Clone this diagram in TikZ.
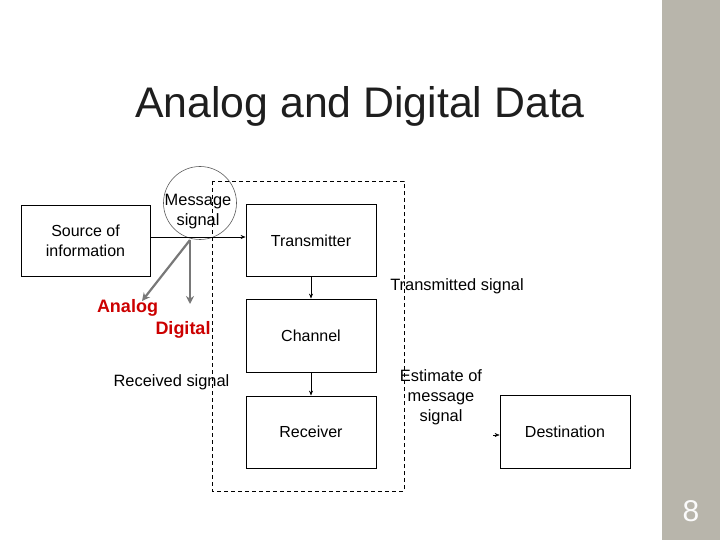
\documentclass[tikz,border=0pt]{standalone}
\usepackage{fontspec}
\setmainfont{Liberation Sans}
\usetikzlibrary{arrows.meta}
\definecolor{barcol}{RGB}{184,181,171}
\definecolor{redtxt}{RGB}{204,0,0}
\definecolor{graylin}{RGB}{120,120,120}
\definecolor{titlecol}{RGB}{30,30,30}
\tikzset{
  blk/.style={draw=black, line width=0.8pt, minimum width=130pt, minimum height=72pt, inner sep=0pt, font=\fontsize{16}{20}\selectfont, align=center},
  lbl/.style={font=\fontsize{16.4}{20}\selectfont, align=center, inner sep=0pt},
  redlbl/.style={font=\fontsize{18}{20}\selectfont\bfseries, text=redtxt, inner sep=0pt},
  flow/.style={line width=0.7pt, -{Stealth[length=5pt,width=4pt]}},
  grayarr/.style={draw=graylin, line width=2.2pt, -{Stealth[length=8pt,width=8pt]}},
}
\begin{document}
\begin{tikzpicture}[x=1pt,y=-1pt]
\useasboundingbox (0,0) rectangle (720,540);
\fill[barcol] (662,0) rectangle (720,540);
\node[text=white!95!barcol, font=\fontsize{30}{32}\selectfont] (pg) at (691,511) {8};
\node[text=titlecol, font=\fontsize{42.8}{46}\selectfont] (title) at (360,106) {Analog and Digital Data};
% dashed frame
\draw[dash pattern=on 4pt off 3pt, line width=0.7pt] (212,181) rectangle (404,491);
% blocks
\node[blk, minimum width=129pt, minimum height=71pt] (src) at (85.5,240.5) {Source of\\information};
\node[blk] (tx) at (311,240.5) {Transmitter};
\node[blk, minimum height=73pt] (ch) at (311,335.5) {Channel};
\node[blk] (rx) at (311,432) {Receiver};
\node[blk, minimum height=73pt] (dst) at (565,431.5) {Destination};
% circle
\draw[line width=0.6pt, draw=black!65] (200,203) circle (36.5);
\node[lbl] (msg) at (198,212) {Message\\signal};
% connectors
\draw[flow] (src.east |- 0,237) -- (tx.west |- 0,237);
\draw[flow] (tx) -- (ch);
\draw[flow] (ch) -- (rx);
\coordinate (dstin) at (493,435);
\draw[flow, line width=0.4pt] (dstin) -- (dst.west |- dstin);
% gray arrows
\coordinate (split) at (190,240);
\node[redlbl] (analog) at (127.5,308) {Analog};
\node[redlbl] (digital) at (183,330) {Digital};
\draw[grayarr] (split) -- (142,301);
\draw[grayarr] (split) -- (190,304);
% labels
\node[lbl] (recv) at (171.5,382) {Received signal};
\node[lbl] (trans) at (457,286) {Transmitted signal};
\node[lbl] (est) at (441,397) {Estimate of\\message\\signal};
\end{tikzpicture}
\end{document}
